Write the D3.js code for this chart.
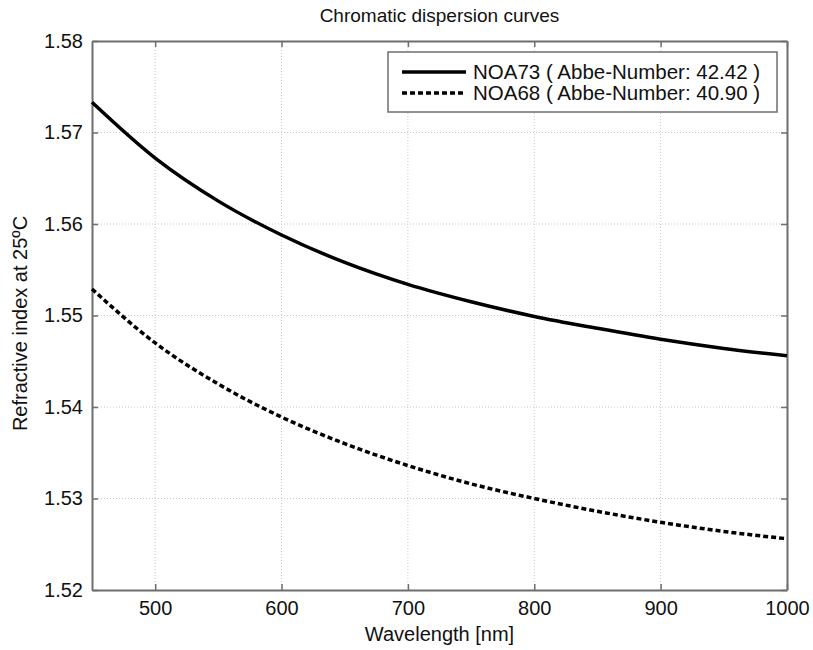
<!DOCTYPE html>
<html>
<head>
<meta charset="UTF-8">
<script src="https://d3js.org/d3.v7.min.js"></script>
<style>
  body { margin: 0; background: #fff; }
  svg { font-family: "Liberation Sans", Arial, sans-serif; }
</style>
</head>
<body>
<svg width="813" height="650"></svg>
<script>
const wavelengths = [450, 500, 550, 600, 650, 700, 750, 800, 850, 900, 950, 1000];
const noa73 = [1.5733, 1.5672, 1.5625, 1.5588, 1.5558, 1.5534, 1.5515, 1.5499, 1.5486, 1.5474, 1.5464, 1.5456];
const noa68 = [1.5529, 1.5470, 1.5425, 1.5389, 1.5360, 1.5336, 1.5316, 1.5300, 1.5286, 1.5274, 1.5264, 1.5256];
const seriesNames = ["NOA73 ( Abbe-Number: 42.42 )", "NOA68 ( Abbe-Number: 40.90 )"];
const xTicks = [500, 600, 700, 800, 900, 1000];
const yTicks = [1.52, 1.53, 1.54, 1.55, 1.56, 1.57, 1.58];

const svg = d3.select("svg");
const m = { left: 92, top: 41, right: 787, bottom: 590 };

const x = d3.scaleLinear().domain([450, 1000]).range([m.left, m.right]);
const y = d3.scaleLinear().domain([1.52, 1.58]).range([m.bottom, m.top]);

const axisColor = "#6e6e6e";

// grid
svg.append("g").selectAll("line.gx")
  .data(xTicks.filter(d => d < 1000))
  .enter().append("line")
  .attr("x1", d => x(d)).attr("x2", d => x(d))
  .attr("y1", m.top).attr("y2", m.bottom)
  .attr("stroke", "#c8c8c8").attr("stroke-dasharray", "1,2");
svg.append("g").selectAll("line.gy")
  .data(yTicks.slice(1, -1))
  .enter().append("line")
  .attr("x1", m.left).attr("x2", m.right)
  .attr("y1", d => y(d)).attr("y2", d => y(d))
  .attr("stroke", "#c8c8c8").attr("stroke-dasharray", "1,2");

// axes (box with inner ticks on all sides)
const tick = 6;
const fmtY = d3.format(".2f");
const xb = svg.append("g").attr("transform", `translate(0,${m.bottom})`)
  .call(d3.axisBottom(x).tickValues(xTicks).tickFormat(d3.format("d"))
    .tickSizeInner(-tick).tickSizeOuter(0).tickPadding(11));
const xt = svg.append("g").attr("transform", `translate(0,${m.top})`)
  .call(d3.axisTop(x).tickValues(xTicks).tickSizeInner(-tick).tickSizeOuter(0).tickFormat(""));
const yl = svg.append("g").attr("transform", `translate(${m.left},0)`)
  .call(d3.axisLeft(y).tickValues(yTicks).tickFormat(fmtY).tickSizeInner(-tick).tickSizeOuter(0).tickPadding(9));
const yr = svg.append("g").attr("transform", `translate(${m.right},0)`)
  .call(d3.axisRight(y).tickValues(yTicks).tickSizeInner(-tick).tickSizeOuter(0).tickFormat(""));

[xb, xt, yl, yr].forEach(g => {
  g.select(".domain").attr("stroke", axisColor).attr("stroke-width", 2);
  g.selectAll(".tick line").attr("stroke", axisColor).attr("stroke-width", 1.5);
  g.selectAll(".tick text").attr("fill", "#111").style("font-size", "20px")
    .style("font-family", "Liberation Sans, Arial, sans-serif");
});

// curves
const line = d3.line()
  .x(d => x(d[0])).y(d => y(d[1]))
  .curve(d3.curveMonotoneX);

const s73 = wavelengths.map((w, i) => [w, noa73[i]]);
const s68 = wavelengths.map((w, i) => [w, noa68[i]]);

svg.append("path").datum(s73).attr("d", line)
  .attr("fill", "none").attr("stroke", "#000").attr("stroke-width", 3.5);
svg.append("path").datum(s68).attr("d", line)
  .attr("fill", "none").attr("stroke", "#000").attr("stroke-width", 3.5)
  .attr("stroke-dasharray", "5,3");

// legend
const lg = svg.append("g");
lg.append("rect").attr("x", 388).attr("y", 52).attr("width", 389).attr("height", 60)
  .attr("fill", "#fff").attr("stroke", axisColor).attr("stroke-width", 1.5);
seriesNames.forEach((name, i) => {
  const cy = 72 + i * 21;
  lg.append("line").attr("x1", 402).attr("x2", 466).attr("y1", cy).attr("y2", cy)
    .attr("stroke", "#000").attr("stroke-width", 3.5)
    .attr("stroke-dasharray", i === 0 ? null : "5,3");
  lg.append("text").attr("x", 473).attr("y", cy).attr("dy", "0.35em")
    .style("font-size", "20.5px").attr("fill", "#111").text(name);
});

// titles
svg.append("text").attr("x", (m.left + m.right) / 2).attr("y", 22)
  .attr("text-anchor", "middle").style("font-size", "19px").attr("fill", "#111")
  .text("Chromatic dispersion curves");
svg.append("text").attr("x", (m.left + m.right) / 2).attr("y", 641)
  .attr("text-anchor", "middle").style("font-size", "20px").attr("fill", "#111")
  .text("Wavelength [nm]");
svg.append("text")
  .attr("transform", `translate(27,${(m.top + m.bottom) / 2 + 8}) rotate(-90)`)
  .attr("text-anchor", "middle").style("font-size", "20px").attr("fill", "#111")
  .text("Refractive index at 25ºC");
</script>
</body>
</html>
